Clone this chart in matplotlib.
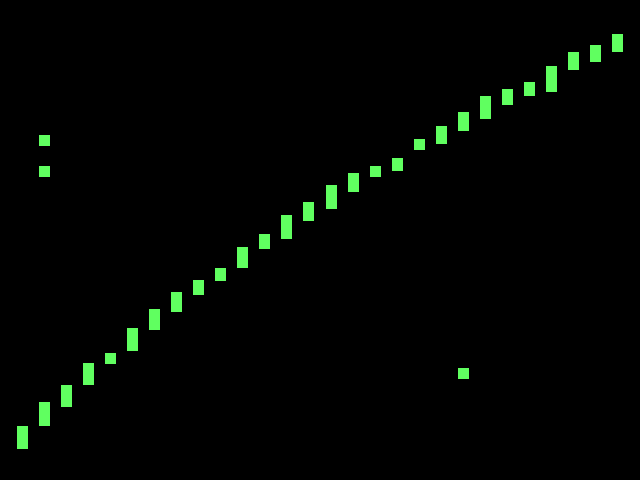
import numpy as np
import matplotlib
matplotlib.use("Agg")
import matplotlib.pyplot as plt

# one floating bar per step: low and high value
steps = np.arange(1, 29)
lows = [7.75, 13.5, 18.25, 23.75, 29.0, 32.25, 37.5, 42.0, 46.25, 49.75,
        53.0, 57.75, 60.25, 64.75, 67.75, 72.0, 75.75, 77.25, 82.5, 84.0,
        87.25, 90.25, 93.75, 96.0, 97.0, 102.5, 104.5, 107.0]
highs = [13.5, 19.5, 23.75, 29.25, 31.75, 38.0, 42.75, 47.0, 50.0, 53.0,
         58.25, 61.5, 66.25, 69.5, 73.75, 76.75, 78.5, 80.5, 85.25, 88.5,
         92.0, 96.0, 97.75, 99.5, 103.5, 107.0, 108.75, 111.5]

# stray points
out_steps = [2, 2, 21]
out_lows = [83.5, 75.75, 25.25]
out_highs = [86.25, 78.5, 28.0]

green = '#60ff60'

fig = plt.figure(figsize=(6.4, 4.8), dpi=100, facecolor='black')
ax = fig.add_axes([0, 0, 1, 1])
ax.set_facecolor('black')

lows = np.asarray(lows)
highs = np.asarray(highs)
ax.bar(steps, highs - lows, bottom=lows, width=0.5, color=green, linewidth=0)
ax.bar(out_steps, np.subtract(out_highs, out_lows), bottom=out_lows,
       width=0.5, color=green, linewidth=0)

step = 595 / 27
ax.set_xlim(1 - 22.5 / step, 1 + 617.5 / step)
ax.set_ylim(0, 120)
ax.axis('off')

fig.savefig('out.png', dpi=100, facecolor='black')
